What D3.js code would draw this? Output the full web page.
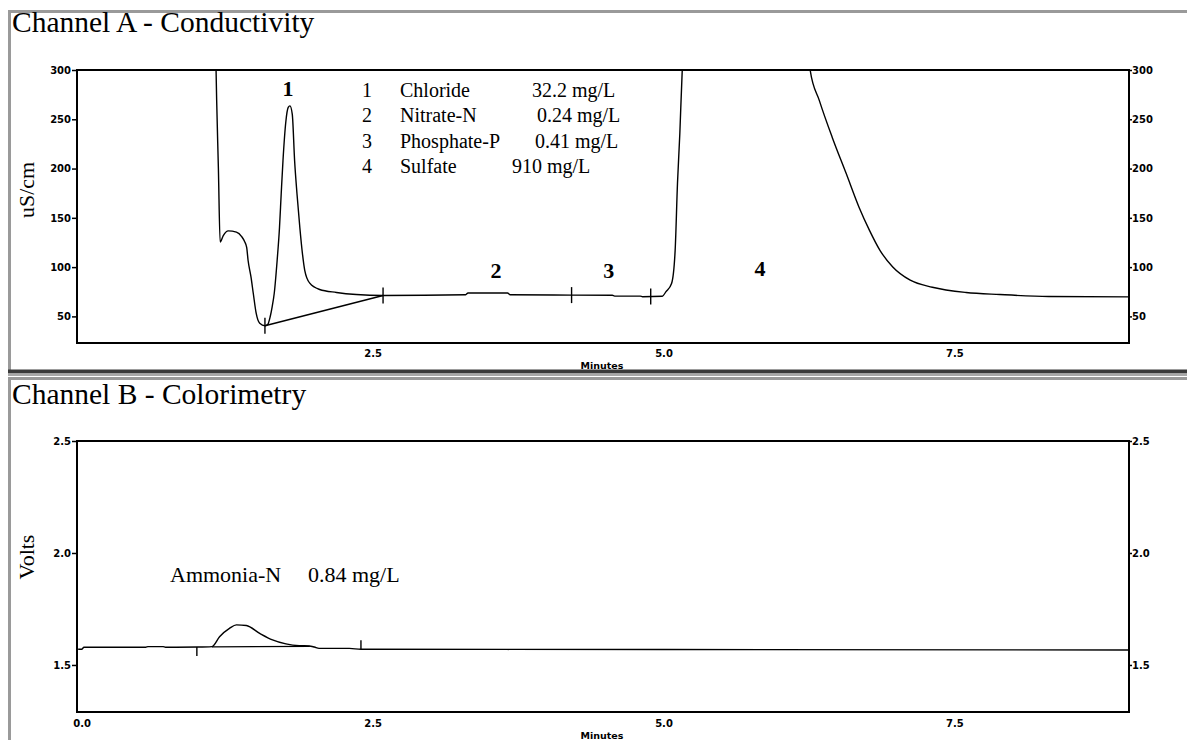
<!DOCTYPE html>
<html>
<head>
<meta charset="utf-8">
<script src="https://cdn.jsdelivr.net/npm/d3@7"></script>
<style>
  html, body { margin: 0; padding: 0; background: #fff; }
  svg { display: block; }
</style>
</head>
<body>
<svg id="chart" width="1187" height="740"></svg>
<script>
// ---------------- DATA ----------------
// Channel A (conductivity, uS/cm) trace
const timesA = [1.15, 1.16, 1.175, 1.19, 1.217, 1.26, 1.33, 1.375, 1.40, 1.418, 1.43, 1.455, 1.475, 1.50, 1.53, 1.575,
  1.60, 1.62, 1.637, 1.655, 1.68, 1.70, 1.715, 1.73, 1.755, 1.775, 1.79, 1.81, 1.83, 1.85, 1.875, 1.897, 1.917,
  1.96, 2.045, 2.19, 2.36, 2.59, 3.30, 3.32, 3.66, 3.68, 4.21, 4.56, 4.58, 4.80, 4.82, 4.99, 5.02, 5.07, 5.10,
  5.12, 5.14, 5.16, 5.18, 6.24, 6.26, 6.34, 6.45, 6.57, 6.68, 6.77, 6.86, 6.97, 7.12, 7.31, 7.60, 7.89, 8.31, 9.0];
const valuesA = [330, 270, 200, 125.4, 132, 136.8, 135.5, 131, 126, 120, 107, 90, 73.2, 53, 43, 40.5,
  42, 49.6, 59.7, 73.5, 107, 140, 175, 208, 248, 262, 263.6, 255, 208, 175, 140, 114, 96.8,
  83.7, 77.3, 74.3, 72.2, 71.2, 72, 73.8, 73.8, 72, 71.6, 71.4, 70.6, 70.6, 70, 70.5, 74.9, 83.7, 117,
  184.8, 235, 297, 330, 330, 300, 268.7, 231.6, 194.9, 160.8, 137.3, 117, 100.1, 86.7, 79.6, 74.3, 72.2, 70.2, 69.8];
// Integration baseline under peak 1 and peak marker times (Channel A)
const baselineTimesA = [1.575, 2.59];
const baselineValuesA = [40.5, 71.2];
const markerTimesA = [1.575, 2.59, 4.21, 4.89];

// Channel B (colorimetry, Volts) trace
const timesB = [-0.03, 0.0, 0.02, 0.55, 0.57, 0.70, 0.72, 1.0, 1.12, 1.185, 1.27, 1.33, 1.415, 1.53, 1.64, 1.755,
  1.87, 1.955, 2.0, 2.04, 2.30, 2.40, 5.0, 9.0];
const valuesB = [1.570, 1.570, 1.579, 1.579, 1.582, 1.582, 1.579, 1.580, 1.582, 1.626, 1.663, 1.679, 1.676, 1.641,
  1.612, 1.594, 1.586, 1.585, 1.580, 1.574, 1.574, 1.570, 1.569, 1.567];
const baselineTimesB = [1.12, 1.96];
const baselineValuesB = [1.581, 1.583];
const markerTimesB = [0.99, 2.40];
const markerDirB = [1, -1]; // 1 = below trace, -1 = above trace

// Ticks
const yTicksA = [50, 100, 150, 200, 250, 300];
const xTicksA = [2.5, 5.0, 7.5];
const yTicksB = [1.5, 2.0, 2.5];
const xTicksB = [0.0, 2.5, 5.0, 7.5];

// Peak labels & legend
const peakIds = ["1", "2", "3", "4"];
const peakLabelTimes = [1.773, 3.56, 4.53, 5.83];
const legendIds = ["1", "2", "3", "4"];
const analyteNames = ["Chloride", "Nitrate-N", "Phosphate-P", "Sulfate"];
const analyteAmounts = ["32.2 mg/L", "0.24 mg/L", "0.41 mg/L", "910 mg/L"];
const ammoniaName = "Ammonia-N";
const ammoniaAmount = "0.84 mg/L";

// ---------------- LAYOUT ----------------
const L = 77, R = 1129;
const topA = 70, botA = 343;
const topB = 441, botB = 712;
const peakLabelY = [96, 278, 278, 276];
const legendRowY = [97, 122.3, 147.7, 173];
const legendIdX = 367, legendNameX = 400;
const legendAmountX = [532, 537, 535, 512];

const svg = d3.select("#chart");
const serif = "'Liberation Serif', 'Times New Roman', serif";
const sans = "'DejaVu Sans', Verdana, sans-serif";

// ---------- panel borders ----------
const frame = svg.append("g");
frame.append("line").attr("x1", 8).attr("x2", 1187).attr("y1", 11.5).attr("y2", 11.5)
  .attr("stroke", "#9a9a9a").attr("stroke-width", 3);
frame.append("line").attr("x1", 9.5).attr("x2", 9.5).attr("y1", 10).attr("y2", 372)
  .attr("stroke", "#9a9a9a").attr("stroke-width", 3);
frame.append("rect").attr("x", 8).attr("y", 369.5).attr("width", 1179).attr("height", 4)
  .attr("fill", "#3a3a3a");
frame.append("rect").attr("x", 8).attr("y", 373.5).attr("width", 1179).attr("height", 2.5)
  .attr("fill", "#a8a8a8");
frame.append("line").attr("x1", 8).attr("x2", 1187).attr("y1", 378.5).attr("y2", 378.5)
  .attr("stroke", "#9a9a9a").attr("stroke-width", 3);
frame.append("line").attr("x1", 9.5).attr("x2", 9.5).attr("y1", 377).attr("y2", 740)
  .attr("stroke", "#9a9a9a").attr("stroke-width", 3);

// ---------- titles ----------
svg.append("text").attr("x", 12).attr("y", 32).text("Channel A - Conductivity")
  .style("font-family", serif).style("font-size", "29.5px").attr("fill", "#000");
svg.append("text").attr("x", 12).attr("y", 404).text("Channel B - Colorimetry")
  .style("font-family", serif).style("font-size", "29.5px").attr("fill", "#000");

// ---------- scales ----------
const xA = d3.scaleLinear().domain([-0.04, 9.0]).range([L, R]);
const yA = d3.scaleLinear().domain([23, 300]).range([botA, topA]);
const xB = d3.scaleLinear().domain([-0.04, 9.0]).range([L, R]);
const yB = d3.scaleLinear().domain([1.29, 2.5]).range([botB, topB]);

function styleAxis(g, size) {
  g.select(".domain").remove();
  g.selectAll("line").attr("stroke", "#000").attr("stroke-width", 1.5);
  g.selectAll("text").style("font-family", sans).style("font-size", size || "10px")
    .style("font-weight", "bold").attr("fill", "#000");
}

function drawPanel(x, y, top, bot, yTicks, xTicks, yFmt, xLabelY, minutesY, id) {
  const gl = svg.append("g").attr("transform", `translate(${L},0)`)
    .call(d3.axisLeft(y).tickValues(yTicks).tickSize(5).tickPadding(1).tickFormat(yFmt));
  styleAxis(gl);
  const gr = svg.append("g").attr("transform", `translate(${R},0)`)
    .call(d3.axisRight(y).tickValues(yTicks).tickSize(3).tickPadding(0).tickFormat(yFmt));
  styleAxis(gr);
  const gb = svg.append("g").attr("transform", `translate(0,${bot})`)
    .call(d3.axisBottom(x).tickValues(xTicks).tickSize(0).tickFormat(d3.format(".1f")));
  styleAxis(gb);
  gb.selectAll("text").attr("y", xLabelY).attr("dy", 0);
  svg.append("rect").attr("x", L).attr("y", top).attr("width", R - L).attr("height", bot - top)
    .attr("fill", "none").attr("stroke", "#000").attr("stroke-width", 2);
  svg.append("text").attr("x", 602).attr("y", minutesY).attr("text-anchor", "middle")
    .text("Minutes").style("font-family", sans).style("font-size", "9.5px").style("font-weight", "bold");
  svg.append("clipPath").attr("id", id).append("rect")
    .attr("x", L).attr("y", top).attr("width", R - L).attr("height", bot - top);
}

drawPanel(xA, yA, topA, botA, yTicksA, xTicksA, d3.format("d"), 14, 369, "clipA");
drawPanel(xB, yB, topB, botB, yTicksB, xTicksB, d3.format(".1f"), 15, 739, "clipB");

// ---------- Channel A traces ----------
const lineA = d3.line().x(d => xA(d[0])).y(d => yA(d[1])).curve(d3.curveMonotoneX);
const straightA = d3.line().x(d => xA(d[0])).y(d => yA(d[1]));
const gA = svg.append("g").attr("clip-path", "url(#clipA)");
gA.append("path").datum(timesA.map((t, i) => [t, valuesA[i]])).attr("d", lineA)
  .attr("fill", "none").attr("stroke", "#000").attr("stroke-width", 1.4).attr("stroke-linejoin", "round");
gA.append("path").datum(baselineTimesA.map((t, i) => [t, baselineValuesA[i]])).attr("d", straightA)
  .attr("fill", "none").attr("stroke", "#000").attr("stroke-width", 1.4);
const interpA = t => {
  const i = d3.bisectLeft(timesA, t);
  if (i <= 0) return valuesA[0];
  if (i >= timesA.length) return valuesA[valuesA.length - 1];
  const t0 = timesA[i - 1], t1 = timesA[i];
  return valuesA[i - 1] + (valuesA[i] - valuesA[i - 1]) * (t - t0) / (t1 - t0);
};
gA.selectAll("line.markA").data(markerTimesA).join("line").attr("class", "markA")
  .attr("x1", d => xA(d)).attr("x2", d => xA(d))
  .attr("y1", (d, i) => yA(i === 0 ? baselineValuesA[0] : interpA(d)) - 8)
  .attr("y2", (d, i) => yA(i === 0 ? baselineValuesA[0] : interpA(d)) + 8)
  .attr("stroke", "#000").attr("stroke-width", 1.4);

// peak labels
svg.selectAll("text.peak").data(peakIds).join("text").attr("class", "peak")
  .attr("x", (d, i) => xA(peakLabelTimes[i])).attr("y", (d, i) => peakLabelY[i])
  .attr("text-anchor", "middle").text(d => d)
  .style("font-family", serif).style("font-size", "22px").style("font-weight", "bold");

// legend
const lg = svg.append("g").style("font-family", serif).style("font-size", "20px");
lg.selectAll("text.lid").data(legendIds).join("text").attr("class", "lid")
  .attr("x", legendIdX).attr("y", (d, i) => legendRowY[i]).attr("text-anchor", "middle").text(d => d);
lg.selectAll("text.lname").data(analyteNames).join("text").attr("class", "lname")
  .attr("x", legendNameX).attr("y", (d, i) => legendRowY[i]).text(d => d);
lg.selectAll("text.lamt").data(analyteAmounts).join("text").attr("class", "lamt")
  .attr("x", (d, i) => legendAmountX[i]).attr("y", (d, i) => legendRowY[i]).text(d => d);

// ---------- Channel B traces ----------
const lineB = d3.line().x(d => xB(d[0])).y(d => yB(d[1])).curve(d3.curveMonotoneX);
const gB = svg.append("g").attr("clip-path", "url(#clipB)");
gB.append("path").datum(timesB.map((t, i) => [t, valuesB[i]])).attr("d", lineB)
  .attr("fill", "none").attr("stroke", "#000").attr("stroke-width", 1.4).attr("stroke-linejoin", "round");
gB.append("path").datum(baselineTimesB.map((t, i) => [t, baselineValuesB[i]])).attr("d", lineB)
  .attr("fill", "none").attr("stroke", "#000").attr("stroke-width", 1.2);
const interpB = t => {
  const i = d3.bisectLeft(timesB, t);
  const t0 = timesB[i - 1], t1 = timesB[i];
  return valuesB[i - 1] + (valuesB[i] - valuesB[i - 1]) * (t - t0) / (t1 - t0);
};
gB.selectAll("line.markB").data(markerTimesB).join("line").attr("class", "markB")
  .attr("x1", d => xB(d)).attr("x2", d => xB(d))
  .attr("y1", d => yB(interpB(d)))
  .attr("y2", (d, i) => yB(interpB(d)) + 9 * markerDirB[i])
  .attr("stroke", "#000").attr("stroke-width", 1.4);

svg.append("text").attr("x", 170).attr("y", 582).text(ammoniaName)
  .style("font-family", serif).style("font-size", "22px");
svg.append("text").attr("x", 308).attr("y", 582).text(ammoniaAmount)
  .style("font-family", serif).style("font-size", "22px");

// ---------- axis titles ----------
svg.append("text").attr("transform", "translate(34,190) rotate(-90)").attr("text-anchor", "middle")
  .text("uS/cm").style("font-family", serif).style("font-size", "22px");
svg.append("text").attr("transform", "translate(34,557) rotate(-90)").attr("text-anchor", "middle")
  .text("Volts").style("font-family", serif).style("font-size", "22px");
</script>
</body>
</html>
